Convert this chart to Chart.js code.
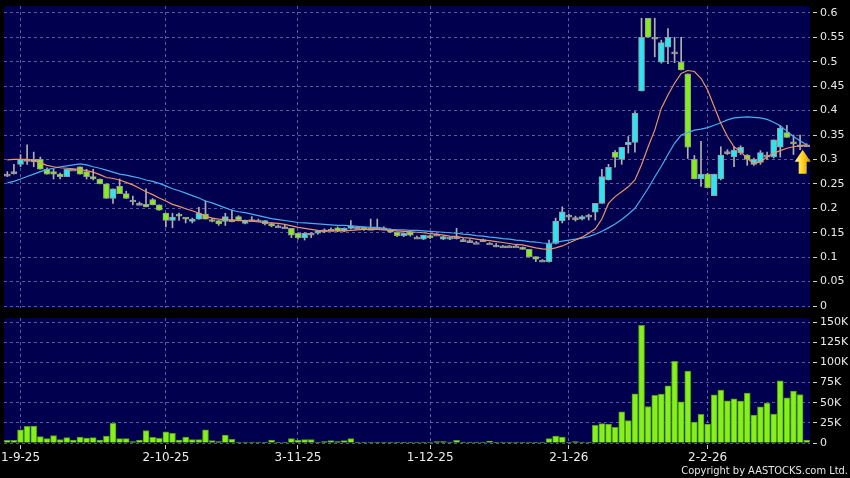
<!DOCTYPE html>
<html>
<head>
<meta charset="utf-8">
<script src="https://cdn.jsdelivr.net/npm/chart.js@4.4.1/dist/chart.umd.min.js"></script>
<style>
  html, body { margin: 0; padding: 0; background: #000; }
  #wrap { position: relative; width: 850px; height: 478px; background: #000; overflow: hidden; }
  #price { position: absolute; left: 0; top: 0; }
  #volume { position: absolute; left: 0; top: 312px; }
  #copy { position: absolute; right: 2px; top: 464px; color: #e6e6e6; font: 11px "DejaVu Sans Condensed", "DejaVu Sans", sans-serif; white-space: nowrap; }
</style>
</head>
<body>
<div id="wrap">
  <canvas id="price" width="850" height="312"></canvas>
  <canvas id="volume" width="850" height="166"></canvas>
  <div id="copy">Copyright by AASTOCKS.com Ltd.</div>
</div>
<script>
// daily candles, oldest first
var open = [0.27,0.275,0.29,0.30,0.295,0.30,0.28,0.275,0.27,0.265,
  0.28,0.285,0.275,0.265,0.26,0.25,0.22,0.245,0.23,0.217,
  0.21,0.208,0.218,0.207,0.19,0.175,0.187,0.18,0.173,0.178,
  0.188,0.177,0.175,0.173,0.177,0.183,0.169,0.177,0.176,0.168,
  0.169,0.164,0.162,0.159,0.149,0.14,0.149,0.149,0.156,0.157,
  0.16,0.153,0.159,0.161,0.16,0.159,0.161,0.16,0.157,0.151,
  0.144,0.152,0.141,0.137,0.144,0.147,0.137,0.137,0.142,0.136,
  0.134,0.13,0.136,0.129,0.125,0.123,0.123,0.123,0.12,0.116,
  0.101,0.094,0.091,0.128,0.174,0.186,0.181,0.178,0.186,0.192,
  0.21,0.258,0.315,0.30,0.33,0.335,0.44,0.589,0.55,0.499,
  0.53,0.52,0.499,0.475,0.30,0.26,0.27,0.226,0.26,0.316,
  0.305,0.314,0.309,0.29,0.294,0.309,0.305,0.325,0.355,0.335,
  0.33,0.33];
var high = [0.275,0.29,0.31,0.33,0.315,0.305,0.283,0.28,0.272,0.28,
  0.28,0.285,0.28,0.28,0.26,0.25,0.24,0.26,0.235,0.225,
  0.213,0.24,0.22,0.207,0.19,0.19,0.19,0.18,0.18,0.202,
  0.215,0.18,0.175,0.19,0.197,0.185,0.176,0.183,0.178,0.175,
  0.17,0.166,0.165,0.159,0.15,0.15,0.15,0.155,0.158,0.16,
  0.162,0.16,0.175,0.163,0.161,0.178,0.178,0.162,0.158,0.152,
  0.15,0.153,0.143,0.145,0.145,0.148,0.143,0.141,0.159,0.138,
  0.136,0.132,0.137,0.13,0.128,0.124,0.124,0.124,0.121,0.116,
  0.101,0.095,0.135,0.18,0.203,0.188,0.184,0.185,0.188,0.21,
  0.28,0.29,0.318,0.325,0.347,0.398,0.589,0.589,0.589,0.544,
  0.568,0.55,0.55,0.475,0.308,0.337,0.272,0.27,0.326,0.32,
  0.326,0.328,0.31,0.303,0.318,0.315,0.34,0.37,0.37,0.35,
  0.35,0.332];
var low = [0.265,0.27,0.285,0.29,0.285,0.28,0.27,0.26,0.26,0.265,
  0.28,0.27,0.26,0.258,0.25,0.22,0.21,0.23,0.22,0.207,
  0.207,0.203,0.207,0.196,0.162,0.16,0.175,0.17,0.17,0.178,
  0.178,0.172,0.165,0.165,0.172,0.176,0.168,0.175,0.174,0.166,
  0.162,0.162,0.159,0.14,0.137,0.135,0.14,0.147,0.15,0.155,
  0.152,0.152,0.158,0.158,0.155,0.157,0.158,0.157,0.15,0.142,
  0.142,0.143,0.139,0.136,0.138,0.145,0.136,0.136,0.137,0.134,
  0.132,0.129,0.135,0.128,0.121,0.122,0.122,0.122,0.116,0.10,
  0.091,0.091,0.09,0.127,0.17,0.176,0.174,0.176,0.176,0.176,
  0.21,0.258,0.284,0.29,0.313,0.315,0.44,0.55,0.51,0.497,
  0.496,0.498,0.483,0.302,0.26,0.245,0.242,0.226,0.258,0.31,
  0.285,0.31,0.288,0.288,0.29,0.30,0.303,0.305,0.345,0.31,
  0.32,0.328];
var close = [0.27,0.275,0.30,0.30,0.30,0.28,0.27,0.27,0.265,0.28,
  0.28,0.27,0.265,0.26,0.25,0.22,0.24,0.23,0.22,0.217,
  0.21,0.203,0.207,0.196,0.175,0.182,0.184,0.178,0.178,0.19,
  0.178,0.173,0.168,0.183,0.177,0.176,0.176,0.177,0.176,0.175,
  0.164,0.164,0.162,0.145,0.14,0.149,0.149,0.154,0.156,0.157,
  0.153,0.159,0.164,0.161,0.157,0.159,0.161,0.16,0.151,0.144,
  0.149,0.145,0.141,0.145,0.14,0.147,0.142,0.14,0.142,0.136,
  0.134,0.13,0.136,0.129,0.125,0.123,0.123,0.123,0.116,0.101,
  0.096,0.094,0.128,0.174,0.193,0.186,0.181,0.183,0.186,0.21,
  0.265,0.284,0.304,0.325,0.335,0.395,0.55,0.55,0.55,0.539,
  0.55,0.52,0.483,0.325,0.26,0.27,0.242,0.27,0.309,0.316,
  0.319,0.325,0.30,0.30,0.314,0.309,0.34,0.364,0.345,0.332,
  0.33,0.33];
// volume in thousand shares
var volume = [3.3,3.3,16.5,20.7,21,7.9,5.4,9.1,4.1,6.6,
  3.7,7.4,6.2,6.6,3.7,8.7,24.4,5.4,5.4,1.7,
  3.7,15.3,7,5.8,14,12,3.7,7.4,4.1,4.1,
  16.5,2.9,1.7,9.9,4.5,0.4,0.4,0.4,0.4,0.4,
  3.7,0.8,1.2,5.4,3.7,4.1,4.1,1.2,1.7,2.9,
  1.7,2.9,5.4,0.8,0.4,1.2,1.2,1.2,0.4,0.4,
  0.4,1.2,0.4,0.4,0.4,1.7,1.7,0.4,3.3,0.4,
  0.4,0.4,0.4,2.5,0.4,0.4,0.4,0.4,0.8,0.8,
  1.2,0.4,5.4,8.7,7.4,1.2,1.7,1,0.5,21.9,
  24,23.5,19.4,38.8,27.7,61.1,146.2,45.4,59.1,60.7,
  71,101.6,51.2,89.2,26,35.5,23.5,59.9,65.7,52.5,
  54.9,52,62,34.7,45,49.6,35.9,77.2,56.2,64.4,
  60.3,3.7];
// moving averages as drawn on the chart
var ma10 = [0.299,0.30,0.30,0.30,0.298,0.293,0.288,0.285,0.283,0.282,
  0.281,0.279,0.277,0.274,0.269,0.263,0.261,0.258,0.253,0.248,
  0.241,0.234,0.228,0.221,0.215,0.208,0.204,0.199,0.195,0.19,
  0.184,0.18,0.178,0.177,0.176,0.175,0.175,0.174,0.172,0.171,
  0.17,0.169,0.167,0.164,0.161,0.159,0.157,0.155,0.154,0.154,
  0.154,0.154,0.155,0.156,0.157,0.157,0.157,0.156,0.155,0.154,
  0.153,0.152,0.151,0.15,0.148,0.147,0.145,0.143,0.142,0.14,
  0.139,0.137,0.135,0.134,0.132,0.13,0.128,0.126,0.125,0.122,
  0.119,0.117,0.116,0.119,0.123,0.129,0.135,0.141,0.149,0.158,
  0.178,0.21,0.224,0.234,0.244,0.258,0.289,0.326,0.36,0.405,
  0.432,0.456,0.476,0.482,0.48,0.466,0.442,0.408,0.374,0.347,
  0.326,0.316,0.302,0.292,0.295,0.305,0.313,0.318,0.323,0.326,
  0.328,0.33];
var ma20 = [0.252,0.255,0.26,0.265,0.27,0.275,0.279,0.282,0.285,0.287,
  0.289,0.291,0.289,0.285,0.282,0.278,0.274,0.27,0.268,0.265,
  0.262,0.258,0.255,0.251,0.246,0.24,0.236,0.231,0.226,0.221,
  0.215,0.211,0.206,0.201,0.196,0.193,0.191,0.188,0.185,0.182,
  0.179,0.177,0.175,0.173,0.171,0.17,0.169,0.168,0.167,0.166,
  0.165,0.165,0.164,0.163,0.162,0.161,0.161,0.159,0.157,0.156,
  0.156,0.155,0.155,0.154,0.153,0.152,0.151,0.15,0.149,0.147,
  0.146,0.144,0.143,0.141,0.14,0.138,0.137,0.135,0.134,0.132,
  0.131,0.129,0.128,0.13,0.133,0.135,0.137,0.139,0.142,0.147,
  0.153,0.16,0.168,0.177,0.188,0.2,0.22,0.241,0.264,0.286,
  0.31,0.333,0.35,0.355,0.36,0.362,0.365,0.37,0.375,0.381,
  0.385,0.386,0.387,0.386,0.385,0.382,0.376,0.369,0.358,0.347,
  0.338,0.33];

var dateTickIndex = [2, 24, 44, 64, 85, 106];
var dateTickLabels = ["1-9-25", "2-10-25", "3-11-25", "1-12-25", "2-1-26", "2-2-26"];
var priceTicks = [0, 0.05, 0.1, 0.15, 0.2, 0.25, 0.3, 0.35, 0.4, 0.45, 0.5, 0.55, 0.6];
var priceTickLabels = ["0", "0.05", "0.1", "0.15", "0.2", "0.25", "0.3", "0.35", "0.4", "0.45", "0.5", "0.55", "0.6"];
var volumeTicks = [0, 25, 50, 75, 100, 125, 150];
var volumeTickLabels = ["0", "25K", "50K", "75K", "100K", "125K", "150K"];

var UP = '#2fe4f0', DOWN = '#86ec1c', FLAT = '#a0a0a0';
var NAVY = '#00004e';
var GRID = 'rgba(150,150,205,0.6)';

Chart.defaults.font.family = 'DejaVu Sans';
Chart.defaults.color = '#e8e8e8';

var days = close.map(function (c, i) { return i; });
var bodies = open.map(function (o, i) { return [o, close[i]]; });
var wicks = low.map(function (l, i) { return [l, high[i]]; });
var bodyColors = open.map(function (o, i) {
  return close[i] > o ? UP : (close[i] < o ? DOWN : FLAT);
});

var navyPlugin = {
  id: 'navy',
  beforeDraw: function (chart) {
    var a = chart.chartArea;
    chart.ctx.save();
    chart.ctx.fillStyle = NAVY;
    chart.ctx.fillRect(a.left, a.top, a.right - a.left, a.bottom - a.top);
    chart.ctx.restore();
  }
};

var arrowPlugin = {
  id: 'arrow',
  afterDatasetsDraw: function (chart) {
    var ctx = chart.ctx;
    var last = close.length - 1;
    var x = chart.scales.x.getPixelForValue(last) - 4;
    var y = chart.scales.y.getPixelForValue(close[last]) + 5;
    var g = ctx.createLinearGradient(x - 8, 0, x + 8, 0);
    g.addColorStop(0, '#fff59a');
    g.addColorStop(0.5, '#ffd21f');
    g.addColorStop(1, '#c99400');
    ctx.save();
    ctx.beginPath();
    ctx.moveTo(x, y);
    ctx.lineTo(x + 8, y + 12);
    ctx.lineTo(x + 4, y + 12);
    ctx.lineTo(x + 4, y + 24);
    ctx.lineTo(x - 4, y + 24);
    ctx.lineTo(x - 4, y + 12);
    ctx.lineTo(x - 8, y + 12);
    ctx.closePath();
    ctx.fillStyle = g;
    ctx.fill();
    ctx.restore();
  }
};

function dateTicks(scale) {
  scale.ticks = dateTickIndex.map(function (v) { return { value: v }; });
}

// keep the plot area where the layout padding puts it
function noLabelPadding(s) {
  s.paddingTop = 0;
  s.paddingBottom = 0;
  s.paddingLeft = 0;
  s.paddingRight = 0;
}

new Chart(document.getElementById("price"), {
  type: 'bar',
  data: {
    labels: days,
    datasets: [
      {
        type: 'line',
        label: "MA10",
        data: ma10,
        borderColor: '#eb9468',
        borderWidth: 1.2,
        pointRadius: 0,
        order: 1
      },
      {
        type: 'line',
        label: "MA20",
        data: ma20,
        borderColor: '#4aaeee',
        borderWidth: 1.2,
        pointRadius: 0,
        order: 1
      },
      {
        label: "body",
        data: bodies,
        backgroundColor: bodyColors,
        borderColor: '#9a9a9a',
        borderWidth: 1,
        borderSkipped: false,
        barThickness: 6,
        minBarLength: 2,
        grouped: false,
        order: 2
      },
      {
        label: "wick",
        data: wicks,
        backgroundColor: '#b0b0b0',
        borderWidth: 0,
        barThickness: 1,
        grouped: false,
        order: 3
      }
    ]
  },
  options: {
    responsive: false,
    animation: false,
    layout: { padding: { left: 4, top: 6, right: 0, bottom: 4 } },
    plugins: {
      legend: { display: false },
      tooltip: { enabled: false }
    },
    scales: {
      x: {
        offset: true,
        afterBuildTicks: dateTicks,
        afterFit: function (s) { s.height = 0; noLabelPadding(s); },
        ticks: { display: false, autoSkip: false },
        grid: { color: GRID, offset: false, drawTicks: false },
        border: { display: false, dash: [3, 3] }
      },
      y: {
        position: 'right',
        min: -0.004,
        max: 0.614,
        afterBuildTicks: function (s) {
          s.ticks = priceTicks.map(function (v) { return { value: v }; });
        },
        afterFit: function (s) { s.width = 40; noLabelPadding(s); },
        ticks: {
          padding: 0,
          font: { size: 11 },
          color: '#e8e8e8',
          callback: function (v, i) { return priceTickLabels[i]; }
        },
        grid: { color: GRID, tickColor: '#d0d0d0', tickLength: 10, tickBorderDash: [0, 3, 4, 50] },
        border: { display: false, dash: [3, 3] }
      }
    }
  },
  plugins: [navyPlugin, arrowPlugin]
});

new Chart(document.getElementById("volume"), {
  type: 'bar',
  data: {
    labels: days,
    datasets: [
      {
        label: "Volume",
        data: volume,
        backgroundColor: '#86ef1e',
        borderColor: '#4f9c10',
        borderWidth: 1,
        barThickness: 6,
        minBarLength: 1
      }
    ]
  },
  options: {
    responsive: false,
    animation: false,
    layout: { padding: { left: 4, top: 6, right: 0, bottom: 0 } },
    plugins: {
      legend: { display: false },
      tooltip: { enabled: false }
    },
    scales: {
      x: {
        offset: true,
        afterBuildTicks: dateTicks,
        afterFit: function (s) { s.height = 35; noLabelPadding(s); },
        ticks: {
          autoSkip: false,
          maxRotation: 0,
          padding: 0,
          font: { size: 12 },
          color: '#ececec',
          callback: function (v, i) { return dateTickLabels[i]; }
        },
        grid: { color: GRID, offset: false, tickColor: '#d0d0d0', tickLength: 8, tickBorderDash: [0, 2, 4, 50] },
        border: { display: false, dash: [3, 3] }
      },
      y: {
        position: 'right',
        min: 0,
        max: 155.3,
        afterBuildTicks: function (s) {
          s.ticks = volumeTicks.map(function (v) { return { value: v }; });
        },
        afterFit: function (s) { s.width = 40; noLabelPadding(s); },
        ticks: {
          padding: 0,
          font: { size: 11 },
          color: '#e8e8e8',
          callback: function (v, i) { return volumeTickLabels[i]; }
        },
        grid: { color: GRID, tickColor: '#d0d0d0', tickLength: 10, tickBorderDash: [0, 3, 4, 50] },
        border: { display: false, dash: [3, 3] }
      }
    }
  },
  plugins: [navyPlugin]
});
</script>
</body>
</html>
